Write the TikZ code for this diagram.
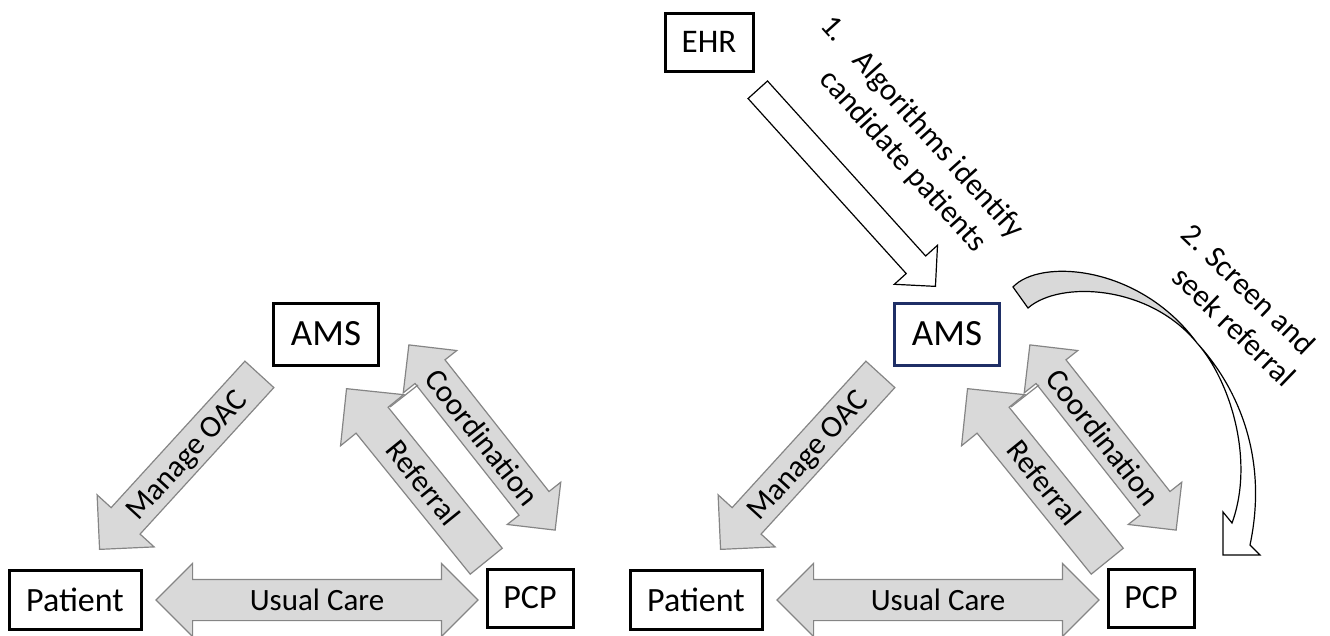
\documentclass[tikz,border=0pt]{standalone}
\usepackage{fontspec}
\setmainfont{Carlito}
\usetikzlibrary{shapes.arrows, calc}
\definecolor{arrowfill}{HTML}{D9D9D9}
\definecolor{arrowline}{HTML}{858585}
\definecolor{amsblue}{HTML}{1F2F66}
\tikzset{
every node/.style = {font = \fontsize{31}{37}\selectfont},
actor/.style = {rectangle, draw, line width = 3pt, inner sep = 0pt, align = center},
flow/.style = {single arrow, draw = arrowline, fill = arrowfill, line width = 1.2pt,
   inner xsep = 1pt, inner ysep = 5pt, text height = 24pt, text depth = 4pt,
   single arrow head extend = 19pt, minimum width = 76pt},
twoway/.style = {double arrow, draw = arrowline, fill = arrowfill, line width = 1.2pt,
   inner xsep = 1pt, inner ysep = 6pt, text height = 24pt, text depth = 4pt,
   double arrow head extend = 16pt, minimum width = 72pt},
steptext/.style = {align = left, inner sep = 0pt},
ribbon/.style = {draw, line width = 1.2pt}
}

\begin{document}
\begin{tikzpicture}[x = 1pt, y = -1pt]
\useasboundingbox (0,0) rectangle (1330,635);

%% The two panels: usual care (left) and with the EHR step (right)
\foreach \p/\dx/\col in {L/0/black, R/621/amsblue} {
   %% Actors
   \node [actor, draw = \col, minimum width = 105pt, minimum height = 62pt,
      font = \fontsize{37}{40}\selectfont] (ams\p) at (326+\dx, 334) {AMS};
   \node [actor, minimum width = 132pt, minimum height = 59pt,
      font = \fontsize{34}{40}\selectfont] (patient\p) at (75+\dx, 600) {Patient};
   \node [actor, minimum width = 86pt, minimum height = 58pt,
      font = \fontsize{34}{40}\selectfont] (pcp\p) at (530+\dx, 598) {PCP};

   %% Flows between them
   \node [twoway, minimum height = 322pt] (care\p) at (317+\dx, 600) {Usual Care};
   \node [flow, shape border rotate = 180, rotate = 47.6, minimum height = 237pt,
      anchor = tip] (oac\p) at (99+\dx, 550) {Manage OAC};
   \node [flow, shape border rotate = 180, rotate = -51, minimum height = 222pt,
      inner ysep = 6pt, minimum width = 80pt, single arrow head extend = 20pt,
      anchor = tip] (ref\p) at (346+\dx, 388) {Referral};
   \node [twoway, rotate = -51.7, minimum height = 236pt, minimum width = 66pt,
      inner ysep = 4.5pt, double arrow head extend = 15pt] (coord\p) at (482+\dx, 437.5) {Coordination};
   \draw [arrowline, line width = 1.2pt] (390+\dx, 407) -- (418+\dx, 385);
}

%% Step 1: EHR feeds the AMS
\node [actor, minimum width = 88pt, minimum height = 58pt,
   font = \fontsize{33}{40}\selectfont] (ehr) at (709, 42) {EHR};
\node [flow, draw = black, fill = white, rotate = -47.9, minimum height = 265pt,
   text height = 0pt, text depth = 0pt, inner ysep = 12.5pt,
   minimum width = 57pt, single arrow head extend = 16pt, anchor = tip] (pull) at (936, 287) {};
\node [steptext, rotate = -48] (step1) at (908, 140)
   {\makebox[48pt][l]{1.}Algorithms identify\\\hspace*{40pt}candidate patients};

%% Step 2: curved arrow from the AMS over to the PCP
\draw [ribbon, fill = arrowfill] (1013,287) .. controls (1040,258) and (1140,265) .. (1197,343)
   .. controls (1150,285) and (1060,280) .. (1028,308) -- cycle;
\draw [ribbon, fill = white] (1197,343) .. controls (1230,380) and (1255,460) .. (1232,523)
   -- (1223,512) -- (1223,555) -- (1260,555) -- (1250,545)
   .. controls (1268,460) and (1240,390) .. (1197,343) -- cycle;
\node [steptext, rotate = -44] (step2) at (1239, 305)
   {2. Screen and\\\hspace*{23pt}seek referral};

\end{tikzpicture}
\end{document}
